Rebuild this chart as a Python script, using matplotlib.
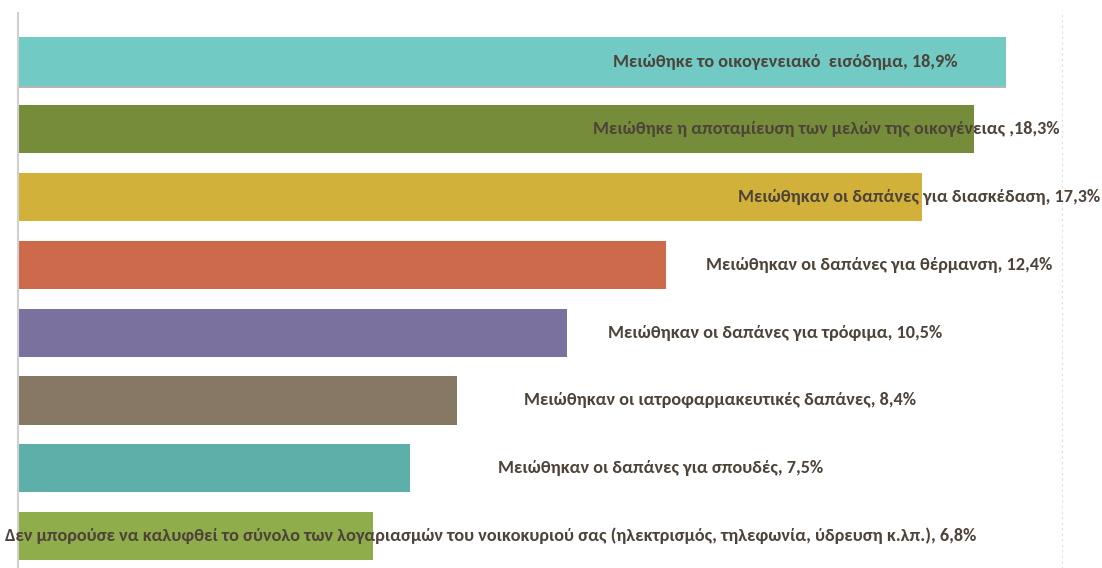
import matplotlib
matplotlib.use('Agg')
from matplotlib import pyplot as plt
from matplotlib import font_manager
import matplotlib.patheffects as pe
import numpy as np

categories = [
    'Μειώθηκε το οικογενειακό  εισόδημα',
    'Μειώθηκε η αποταμίευση των μελών της οικογένειας',
    'Μειώθηκαν οι δαπάνες για διασκέδαση',
    'Μειώθηκαν οι δαπάνες για θέρμανση',
    'Μειώθηκαν οι δαπάνες για τρόφιμα',
    'Μειώθηκαν οι ιατροφαρμακευτικές δαπάνες',
    'Μειώθηκαν οι δαπάνες για σπουδές',
    'Δεν μπορούσε να καλυφθεί το σύνολο των λογαριασμών του νοικοκυριού σας (ηλεκτρισμός, τηλεφωνία, ύδρευση κ.λπ.)',
]
values = [18.9, 18.3, 17.3, 12.4, 10.5, 8.4, 7.5, 6.8]
colors = ['#71cbc4', '#758d3a', '#d2b13b', '#cd6a4c',
          '#7a719e', '#877866', '#5db0aa', '#8fad4b']
# where the data labels sit (x centre, in % units)
label_x = [14.68, 15.47, 17.25, 16.48, 14.50, 13.44, 12.30, 9.04]
# the second label has its comma placed before the space
separators = [', ', ' ,', ', ', ', ', ', ', ', ', ', ', ', ']

names = {f.name for f in font_manager.fontManager.ttflist}
family = 'Roboto'
for cand in ['Carlito', 'Roboto Condensed', 'Liberation Sans Narrow', 'Open Sans Condensed']:
    if cand in names:
        family = cand
        break

fig = plt.figure(figsize=(11.02, 5.68), dpi=100)
ax = fig.add_axes([18 / 1102, -0.029, 1045 / 1102, 1.006])

y = np.arange(len(values))
bars = ax.barh(y, values, height=0.71, color=colors, zorder=2)
bars[0].set_path_effects([pe.SimplePatchShadow(offset=(0, -1.5), shadow_rgbFace='#888888', alpha=0.6),
                          pe.Normal()])

ax.set_xlim(0, 20)
ax.set_ylim(len(values) - 1 + 0.715, -0.715)

texts = []
for i in range(len(values)):
    txt = categories[i] + separators[i] + ('%.1f' % values[i]).replace('.', ',') + '%'
    t = ax.text(label_x[i], y[i], txt, ha='center', va='center', fontsize=14,
                fontweight='bold', color='#4d4338', zorder=3, family=family)
    texts.append(t)

# size the labels so the first one is as wide as in the original
renderer = fig.canvas.get_renderer()
w = texts[0].get_window_extent(renderer).width
size = 14 * 345 / w
for t in texts:
    t.set_fontsize(size)

ax.axvline(20, color='#dddddd', linestyle=':', linewidth=1.5, zorder=1)
ax.set_xticks([])
ax.set_yticks([])
for s in ['top', 'right', 'bottom']:
    ax.spines[s].set_visible(False)
ax.spines['left'].set_color('#d0d0d0')
ax.spines['left'].set_linewidth(1.5)

fig.savefig('out.png', dpi=100)
